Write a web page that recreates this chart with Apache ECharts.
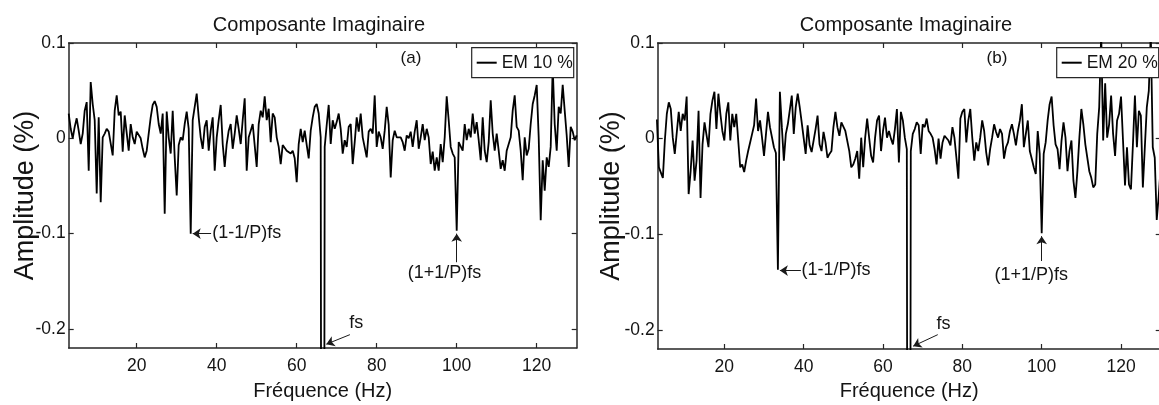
<!DOCTYPE html>
<html><head><meta charset="utf-8">
<script src="https://cdn.jsdelivr.net/npm/echarts@6/dist/echarts.min.js"></script>
<style>html,body{margin:0;padding:0;background:#fff}#c{width:1159px;height:405px}</style>
</head><body><div id="c"></div>
<script>
// sampling grid of the spectra (Hz)
const freqStart = 3, freqStep = 0.5;
// panel (a) : EM 10 %
const emA = [
0.026,0.010,0.000,0.012,0.021,0.008,-0.006,0.005,0.029,0.038,
-0.034,0.059,0.036,0.019,-0.058,0.022,-0.067,0.001,0.005,0.010,
0.007,0.005,-0.018,0.029,0.045,0.024,0.028,-0.014,0.024,0.026,
-0.013,0.015,0.001,-0.006,0.007,0.008,0.000,-0.011,-0.020,-0.013,
0.005,0.022,0.035,0.039,0.033,0.015,0.005,0.026,-0.079,0.028,
0.001,-0.016,0.029,-0.020,-0.060,-0.007,0.001,-0.002,0.015,0.028,
0.010,-0.100,0.019,0.033,0.047,0.022,0.001,-0.011,0.012,0.019,
-0.013,0.008,0.022,-0.034,0.001,0.019,0.035,-0.006,-0.030,-0.006,
0.008,0.015,-0.011,0.005,0.024,0.010,-0.006,0.019,0.042,-0.034,
0.001,0.008,0.015,0.017,-0.030,0.015,0.029,0.022,0.044,0.019,
0.031,-0.004,0.026,0.022,0.001,-0.009,-0.027,-0.007,-0.009,-0.013,
-0.011,-0.016,-0.013,-0.021,-0.046,-0.006,0.010,-0.004,0.008,-0.007,
-0.021,0.008,0.022,0.033,0.036,0.026,0.001,-1.5,-0.009,0.014,
0.035,-0.006,0.019,0.010,0.017,0.026,0.010,-0.016,-0.002,-0.009,
0.012,0.015,-0.027,-0.004,0.022,0.007,0.026,0.001,0.000,-0.020,
0.007,0.010,0.005,0.045,-0.009,0.007,0.001,-0.011,0.008,0.033,
0.014,-0.041,-0.002,0.008,0.001,0.000,0.001,-0.004,-0.013,0.003,
0.000,0.007,-0.009,0.007,0.019,-0.011,0.001,0.015,-0.002,0.010,
0.001,-0.027,-0.014,-0.034,-0.020,-0.034,-0.006,-0.025,0.001,0.044,
0.019,-0.009,-0.016,-0.020,-0.097,-0.004,-0.002,-0.013,0.015,-0.002,
0.010,0.001,0.026,0.005,0.017,-0.002,-0.023,0.022,-0.013,-0.025,
-0.004,0.040,0.005,-0.013,0.005,-0.013,-0.032,-0.023,-0.034,-0.013,
-0.011,0.001,0.029,0.045,0.012,0.008,-0.013,-0.044,0.001,-0.018,
-0.011,0.015,0.036,0.045,0.056,0.001,-0.086,-0.023,-0.055,-0.020,
-0.030,-0.009,0.075,0.015,-0.013,0.033,0.026,0.056,0.029,0.003,
-0.030,0.012,0.007,-0.002,0.003
];
// panel (b) : EM 20 %
const emB = [
0.020,-0.030,-0.028,-0.041,-0.002,0.026,0.038,0.031,0.001,-0.016,
-0.018,0.028,0.008,0.026,0.019,0.044,-0.058,-0.034,-0.002,-0.044,
-0.023,0.029,-0.062,-0.006,0.017,0.015,-0.009,0.026,0.040,0.049,
0.010,0.047,0.026,0.008,-0.002,0.026,0.038,-0.002,0.026,0.012,
0.026,-0.002,-0.030,-0.027,-0.035,-0.023,-0.013,-0.004,0.005,0.014,
0.042,0.008,0.019,0.001,-0.018,-0.020,0.028,0.012,0.010,-0.009,
-0.015,-0.137,0.049,0.012,-0.023,0.005,0.015,0.014,0.045,0.005,
0.033,0.047,0.033,0.017,0.019,-0.016,0.014,-0.007,-0.014,-0.002,
0.010,0.024,-0.006,-0.013,0.007,-0.004,-0.020,-0.016,-0.013,0.012,
0.028,0.012,0.003,0.017,0.019,0.008,0.007,-0.013,-0.030,-0.027,
-0.021,-0.013,-0.042,0.001,-0.030,0.001,0.021,0.001,-0.018,-0.025,
0.001,0.019,0.024,-0.013,0.008,0.022,0.001,0.008,0.000,-0.006,
0.010,0.031,-0.025,0.028,0.019,0.001,-0.011,-1.5,-0.013,0.005,
0.010,0.017,0.014,-0.016,0.015,0.012,0.021,0.008,0.005,0.001,
-0.011,-0.027,0.000,-0.021,-0.004,0.003,0.003,-0.002,-0.007,0.012,
0.001,-0.020,-0.042,0.021,0.028,0.031,-0.004,0.019,0.031,0.001,
-0.023,-0.004,-0.013,0.001,0.019,0.008,-0.014,-0.028,-0.011,0.001,
0.015,0.007,0.001,0.010,0.005,-0.021,-0.009,-0.004,0.008,0.015,
0.005,-0.007,0.008,0.019,0.036,-0.009,0.005,0.019,-0.013,-0.021,
-0.030,-0.037,0.008,-0.016,-0.099,-0.016,-0.004,0.019,0.036,0.044,
0.014,-0.006,-0.011,-0.032,-0.002,0.017,0.001,-0.034,-0.013,-0.002,
-0.044,-0.062,-0.034,0.001,0.031,0.015,-0.006,-0.020,-0.034,-0.041,
-0.051,-0.048,0.005,0.033,0.110,-0.002,0.058,0.001,0.015,0.045,
0.005,-0.018,0.019,0.026,0.044,-0.002,-0.049,-0.009,-0.048,-0.053,
-0.006,0.045,-0.009,0.029,0.024,-0.051,-0.009,0.033,0.050,0.110,
-0.009,-0.020,-0.085,-0.060,-0.030
];
const xTicks = [20, 40, 60, 80, 100, 120];
const yTicks = [-0.2, -0.1, 0, 0.1];
const seriesNames = ['EM 10 %', 'EM 20 %'];
const panelLetters = ['(a)', '(b)'];
const titleText = 'Composante Imaginaire';
const xName = 'Fréquence (Hz)';
const yName = 'Amplitude (%)';
const annotLow = '(1-1/P)fs', annotHigh = '(1+1/P)fs', annotFs = 'fs';

const FONT = "'Liberation Sans',Arial,Helvetica,sans-serif";
const INK = '#141414';
const AX = '#262626';

function pairs(vals) { return vals.map((v, i) => [freqStart + i * freqStep, v]); }

const panels = [
  { grid: { left: 68.7, top: 43, width: 508, height: 305 }, xMin: 3, xMax: 130, yNameGap: 30, xNameGap: 33,
    title: [319, 25], letter: [411, 58], legend: [471.7, 47.7],
    ann: { low: { txt: [39.0, -0.1], a: [[38.6, -0.1], [34.0, -0.1]] },
           high: { txt: [97.1, -0.142], a: [[100, -0.130], [100, -0.1]] },
           fs: { txt: [75.0, -0.194], a: [[73.3, -0.206], [67.4, -0.216]] } } },
  { grid: { left: 657.7, top: 43, width: 503, height: 306 }, xMin: 3.2, xMax: 130, yNameGap: 33, xNameGap: 32,
    title: [906, 25], letter: [997, 58], legend: [1056.7, 47.7],
    ann: { low: { txt: [39.6, -0.138], a: [[39.3, -0.138], [34.0, -0.138]] },
           high: { txt: [97.5, -0.1435], a: [[100, -0.128], [100, -0.102]] },
           fs: { txt: [75.4, -0.194], a: [[73.8, -0.205], [67.6, -0.217]] } } }
];
const dataSets = [emA, emB];

const axisLine = { show: true, onZero: false, lineStyle: { color: AX, width: 1.5 } };
const tickStyle = { color: AX, width: 1.2 };

const option = { animation: false, backgroundColor: '#fff', grid: [], xAxis: [], yAxis: [], series: [], legend: [], graphic: [] };

panels.forEach((p, i) => {
  option.grid.push(Object.assign({ outerBoundsMode: 'none', containLabel: false }, p.grid));
  option.xAxis.push({ type: 'value', gridIndex: i, position: 'bottom', min: p.xMin, max: p.xMax,
    axisLine, splitLine: { show: false },
    axisTick: { show: true, inside: true, length: 5, customValues: xTicks, lineStyle: tickStyle },
    axisLabel: { customValues: xTicks, fontSize: 17.5, fontFamily: FONT, color: INK, margin: 9 },
    name: xName, nameLocation: 'middle', nameGap: p.xNameGap, nameMoveOverlap: false,
    nameTextStyle: { fontSize: 20, fontFamily: FONT, color: INK } });
  option.yAxis.push({ type: 'value', gridIndex: i, position: 'left', min: -0.22, max: 0.1,
    axisLine, splitLine: { show: false },
    axisTick: { show: true, inside: true, length: 5, customValues: yTicks, lineStyle: tickStyle },
    axisLabel: { customValues: yTicks, fontSize: 17.5, fontFamily: FONT, color: INK, margin: 3,
      formatter: v => String(Math.round(v * 10) / 10) },
    name: yName, nameLocation: 'middle', nameRotate: 90, nameGap: p.yNameGap, nameMoveOverlap: false,
    nameTextStyle: { fontSize: 27, fontFamily: FONT, color: INK } });
});
panels.forEach((p, i) => {
  option.xAxis.push({ type: 'value', gridIndex: i, position: 'top', min: p.xMin, max: p.xMax,
    axisLine, splitLine: { show: false }, axisLabel: { show: false },
    axisTick: { show: true, inside: true, length: 5, customValues: xTicks, lineStyle: tickStyle } });
  option.yAxis.push({ type: 'value', gridIndex: i, position: 'right', min: -0.22, max: 0.1,
    axisLine, splitLine: { show: false }, axisLabel: { show: false },
    axisTick: { show: true, inside: true, length: 5, customValues: yTicks, lineStyle: tickStyle } });
});

function txtPoint(coord, text, align) {
  return { coord, value: text, symbol: 'circle', symbolSize: 1, itemStyle: { color: 'rgba(0,0,0,0)' },
    label: { show: true, formatter: text, position: [0, 0], align, verticalAlign: 'middle',
      fontSize: 18, fontFamily: FONT, color: INK } };
}

panels.forEach((p, i) => {
  const a = p.ann;
  option.series.push({
    type: 'line', name: seriesNames[i], xAxisIndex: i, yAxisIndex: i,
    data: pairs(dataSets[i]), symbol: 'none', showSymbol: false, clip: true,
    lineStyle: { color: '#000', width: 1.8 }, itemStyle: { color: '#000' },
    emphasis: { disabled: true }, silent: true, z: 2,
    markLine: { silent: true, symbol: ['none', 'arrow'], symbolSize: 8, animation: false,
      label: { show: false }, emphasis: { disabled: true },
      lineStyle: { color: '#1a1a1a', width: 1, type: 'solid' },
      data: [
        [{ coord: a.low.a[0] }, { coord: a.low.a[1] }],
        [{ coord: a.high.a[0] }, { coord: a.high.a[1] }],
        [{ coord: a.fs.a[0] }, { coord: a.fs.a[1] }]
      ] },
    markPoint: { silent: true, animation: false,
      data: [
        txtPoint(a.low.txt, annotLow, 'left'),
        txtPoint(a.high.txt, annotHigh, 'center'),
        txtPoint(a.fs.txt, annotFs, 'center')
      ] }
  });
  option.legend.push({
    data: [seriesNames[i]], left: p.legend[0], top: p.legend[1], orient: 'horizontal',
    icon: 'rect', itemWidth: 20, itemHeight: 2, itemStyle: { color: '#000' },
    padding: [6, 1, 6, 5],
    borderColor: AX, borderWidth: 1.2, backgroundColor: '#fff', borderRadius: 0,
    textStyle: { fontSize: 17.5, fontFamily: FONT, color: INK },
    selectedMode: false, z: 10
  });
  option.graphic.push({ type: 'text', x: p.title[0], y: p.title[1],
    style: { text: titleText, fontSize: 20, fontFamily: FONT, fill: INK, align: 'center', verticalAlign: 'middle' } });
  option.graphic.push({ type: 'text', x: p.letter[0], y: p.letter[1],
    style: { text: panelLetters[i], fontSize: 17, fontFamily: FONT, fill: INK, align: 'center', verticalAlign: 'middle' } });
});

const chart = echarts.init(document.getElementById('c'), null, { renderer: 'canvas' });
chart.setOption(option);
</script>
</body></html>
